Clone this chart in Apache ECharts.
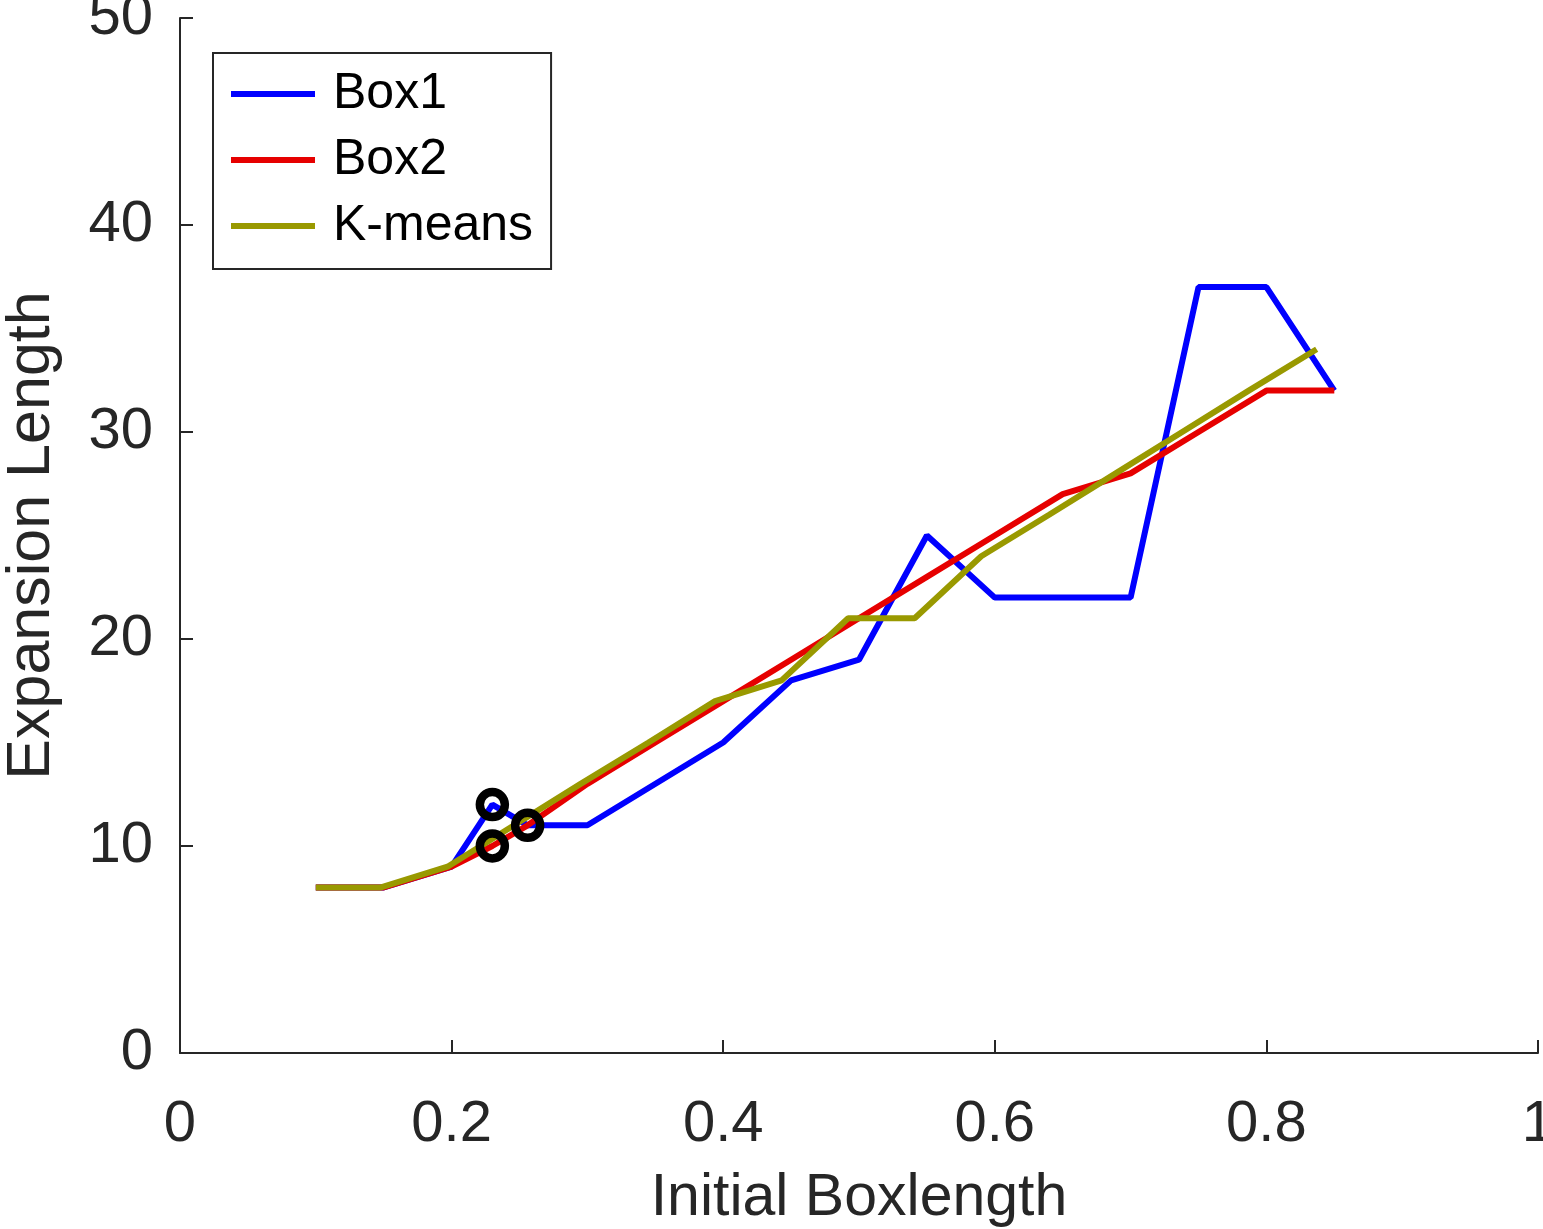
<!DOCTYPE html>
<html lang="en">
<head>
  <meta charset="UTF-8">
  <title>Expansion Length</title>
  <script type="text/javascript" src="https://cdn.jsdelivr.net/npm/echarts@6/dist/echarts.min.js"></script>
  <style>
    html, body { margin: 0; padding: 0; background: #fff; }
  </style>
</head>
<body>
  <div id="chart" style="width: 1543px; height: 1229px;"></div>
  <script type="text/javascript">
    // data: [initial boxlength, expansion length]
    var box1 = [
      [0.1, 8], [0.15, 8], [0.2, 9], [0.23, 12], [0.256, 11], [0.3, 11],
      [0.4, 15], [0.45, 18], [0.5, 19], [0.55, 25], [0.6, 22], [0.7, 22],
      [0.75, 37], [0.8, 37], [0.85, 32]
    ];
    var box2 = [
      [0.1, 8], [0.15, 8], [0.2, 9], [0.23, 10], [0.256, 11], [0.3, 13],
      [0.35, 15], [0.4, 17], [0.45, 19], [0.5, 21], [0.55, 23], [0.6, 25],
      [0.65, 27], [0.7, 28], [0.75, 30], [0.8, 32], [0.85, 32]
    ];
    var kmeans = [
      [0.1, 8], [0.148, 8], [0.197, 9], [0.246, 11], [0.295, 13], [0.345, 15],
      [0.394, 17], [0.443, 18], [0.492, 21], [0.541, 21], [0.59, 24], [0.64, 26],
      [0.689, 28], [0.738, 30], [0.787, 32], [0.837, 34]
    ];
    // black circle markers
    var marked = [[0.23, 12], [0.23, 10], [0.256, 11]];

    var legendNames = ['Box1', 'Box2', 'K-means'];
    var font = 'Liberation Sans, Arial, Helvetica, sans-serif';
    var ink = '#262626';

    var chart = echarts.init(document.getElementById('chart'));

    var option = {
      backgroundColor: '#fff',
      animation: false,
      textStyle: { fontFamily: font },
      grid: { left: 180, right: 5, top: 18, bottom: 176, outerBoundsMode: 'none', containLabel: false },
      legend: {
        data: legendNames,
        orient: 'vertical',
        left: 213,
        top: 53,
        padding: [16, 18, 18, 18],
        itemGap: 16,
        itemWidth: 84,
        itemHeight: 6,
        icon: 'rect',
        borderColor: ink,
        borderWidth: 2,
        borderRadius: 0,
        backgroundColor: '#fff',
        textStyle: { fontFamily: font, fontSize: 50, lineHeight: 50, color: '#000', padding: [0, 0, 0, 13] }
      },
      xAxis: {
        type: 'value',
        min: 0,
        max: 1,
        interval: 0.2,
        name: 'Initial Boxlength',
        nameLocation: 'middle',
        nameGap: 116,
        nameTextStyle: { fontFamily: font, fontSize: 59, color: ink },
        axisLine: { lineStyle: { color: ink, width: 2 } },
        axisTick: { inside: true, length: 13, lineStyle: { color: ink, width: 2 } },
        axisLabel: { fontFamily: font, fontSize: 58, color: ink, margin: 43 },
        splitLine: { show: false }
      },
      yAxis: {
        type: 'value',
        min: 0,
        max: 50,
        interval: 10,
        name: 'Expansion Length',
        nameLocation: 'middle',
        nameGap: 117,
        nameTextStyle: { fontFamily: font, fontSize: 61, color: ink },
        axisLine: { show: true, lineStyle: { color: ink, width: 2 } },
        axisTick: { show: true, inside: true, length: 13, lineStyle: { color: ink, width: 2 } },
        axisLabel: { fontFamily: font, fontSize: 58, color: ink, margin: 27, lineHeight: 58, padding: [10, 0, 0, 0] },
        splitLine: { show: false }
      },
      series: [
        {
          name: 'Box1', type: 'line', data: box1, showSymbol: false,
          color: '#0000ff', lineStyle: { width: 6, color: '#0000ff' }, z: 2
        },
        {
          name: 'Box2', type: 'line', data: box2, showSymbol: false,
          color: '#e60000', lineStyle: { width: 6, color: '#e60000' }, z: 3
        },
        {
          name: 'K-means', type: 'line', data: kmeans, showSymbol: false,
          color: '#999900', lineStyle: { width: 6, color: '#999900' }, z: 4
        },
        {
          name: 'marked', type: 'scatter', data: marked,
          symbol: 'circle', symbolSize: 25,
          itemStyle: { color: 'rgba(0,0,0,0)', borderColor: '#000', borderWidth: 8.5, opacity: 1 },
          z: 5
        }
      ]
    };

    chart.setOption(option);
  </script>
</body>
</html>
